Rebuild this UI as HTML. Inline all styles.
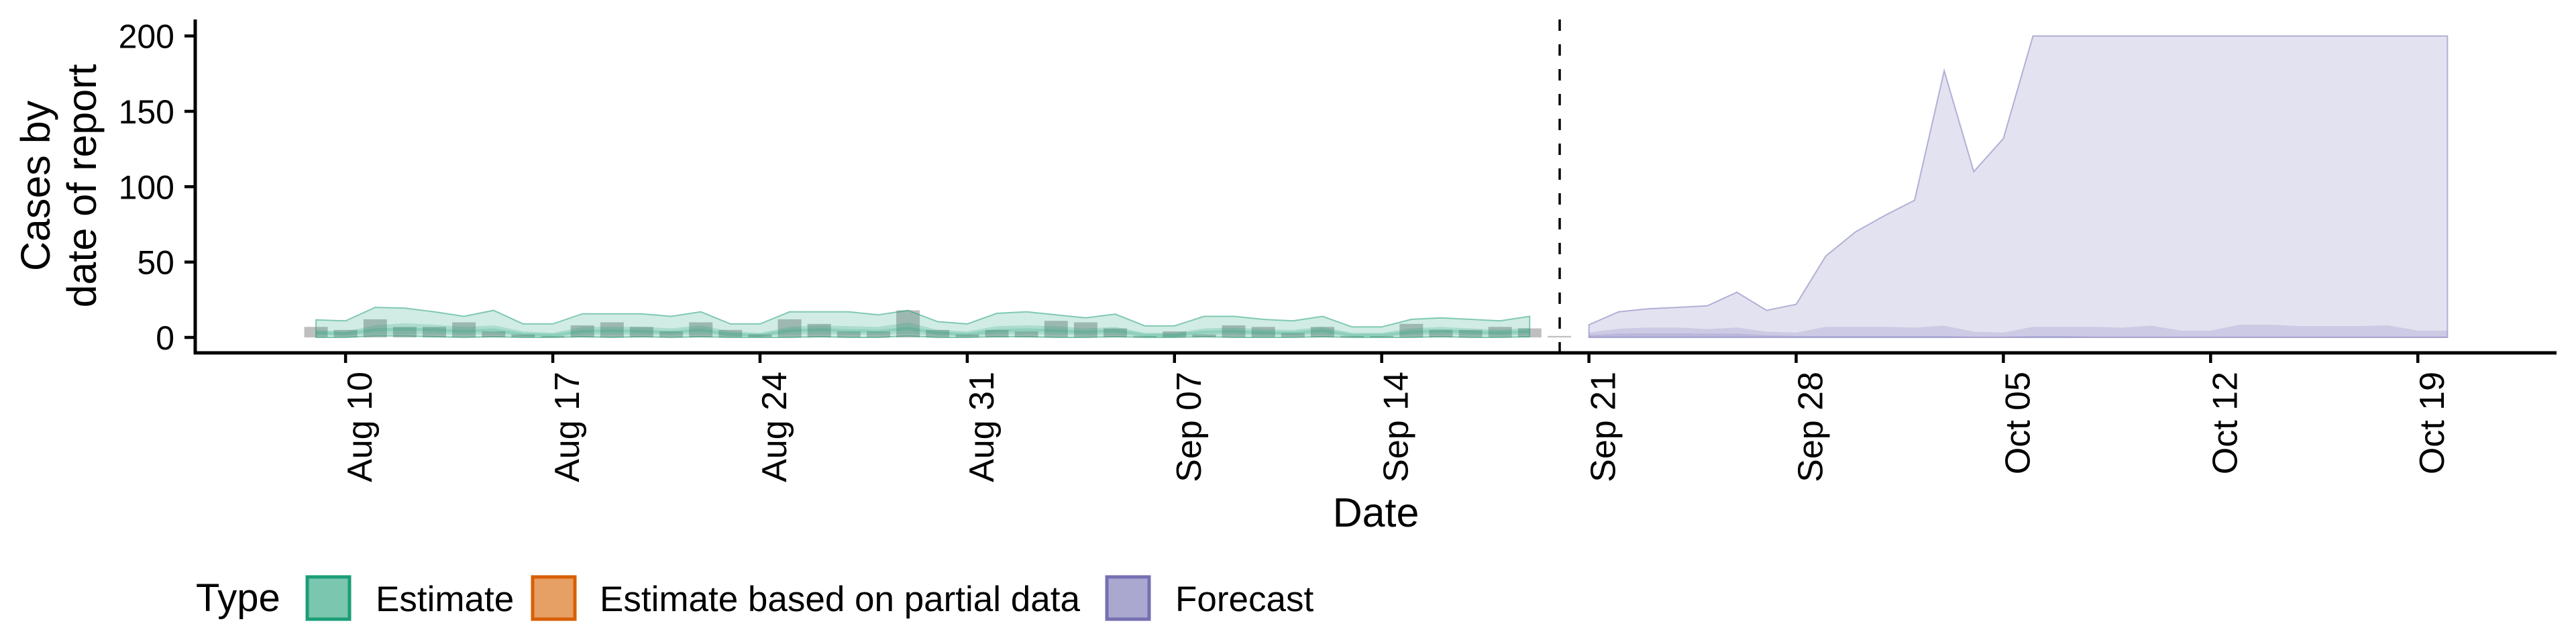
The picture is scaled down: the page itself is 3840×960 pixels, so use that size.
<!DOCTYPE html>
<html><head><meta charset="utf-8">
<style>
html,body{margin:0;padding:0;background:#fff;}
svg{display:block;font-family:"Liberation Sans",Arial,sans-serif;}
</style></head>
<body>
<svg id="chart" width="3840" height="960" viewBox="0 0 3840 960" xmlns="http://www.w3.org/2000/svg">
  <g id="bars"></g>
  <g id="ribbons"></g>
  <line x1="2325" y1="29" x2="2325" y2="526" stroke="#000" stroke-width="3.5" stroke-dasharray="17,20"/>
  <g id="axes">
    <line x1="291" y1="29" x2="291" y2="528" stroke="#000" stroke-width="5"/>
    <line x1="289" y1="526" x2="3811" y2="526" stroke="#000" stroke-width="5"/>
  </g>
  <g id="yticks"></g>
  <g id="xticks"></g>
  <text transform="translate(74,277) rotate(-90)" text-anchor="middle" font-size="61">Cases by</text>
  <text transform="translate(143,277) rotate(-90)" text-anchor="middle" font-size="61">date of report</text>
  <text x="2051" y="785" text-anchor="middle" font-size="61">Date</text>
  <g>
    <text x="292" y="911" font-size="58">Type</text>
    <rect x="458" y="860" width="63" height="63" fill="#7BC6AE" stroke="#1B9E77" stroke-width="5"/>
    <text x="560" y="911" font-size="53">Estimate</text>
    <rect x="794" y="860" width="63" height="63" fill="#E69F64" stroke="#D95F02" stroke-width="5"/>
    <text x="894" y="911" font-size="53">Estimate based on partial data</text>
    <rect x="1650" y="860" width="63" height="63" fill="#ABA8D0" stroke="#7570B3" stroke-width="5"/>
    <text x="1752" y="911" font-size="53">Forecast</text>
  </g>
</svg>
<script>
// day index 0 = Aug 9
const barValues = [7,5,12,7,7,10,4,2,1,8,10,7,4,10,5,2,12,9,4,4,18,5,2,5,4,11,10,6,1,4,2,8,7,3,7,1,1,9,5,5,7,6,1];
const estUpper90 = [11.7,11,20,19.5,17,14,18,9,9,15.7,15.7,15.7,14,17,9,9,17,17,17,15,18,10.5,9,16,17,15,13,15.5,7.7,7.7,14,14,12,11,14,7,7,12,13,12,11,14];
const estUpper50 = [5,4,8,9.5,8.5,7,8,4,3,7,7,7,6,8,4,3,7,8,7.5,7,10,5,4,7.5,8,7.5,6,7,3,3,6,6.5,5.5,5,7,3,3,6,7,6,5,6.5];
const estMedian = [3,2.5,5,5.5,5,4,5,2,1.5,4,4.5,4,3.5,5,2,1.5,4.5,5,4.5,4,6,3,2,4.5,5,4.5,3.5,4.5,1.5,1.5,3.5,4,3,3,4.5,1.5,1.5,3.5,4.5,3.5,3,4];
const estLower90 = [0,0,1,1,0.5,0,0.5,0,0,0.5,0,0.5,0,0.5,0,0,0,0.5,0,0,1,0,0,0.5,0.5,0,0,0.5,0,0,0.5,0,0,0,0.5,0,0,0,0.5,0,0,0.5];
// forecast: day index 43 = Sep 21 .. 72 = Oct 20
const fcUpper90 = [8.4,17,19,20,21,30,18,22,54,70,81,91,177,110,132,200,200,200,200,200,200,200,200,200,200,200,200,200,200,200];
const fcUpper50 = [3.3,5.8,6.6,6.6,5.5,6.6,3.8,3.2,7,7,7,6.5,7.8,3.8,3.2,7,7,7,6.5,7.8,4.5,4.5,8.5,8.5,7.5,7.5,7.5,8,4.5,4.5];
const fcUpper20 = [1.5,2.5,2.8,2.8,2.5,2.5,1.5,1,1,1,1,1,1,0.5,0.5,1,1,0.5,0.5,0.5,0.5,0.5,0.5,0.5,0.5,0.5,0.5,0.5,0.5,0.5];
const yTicks = [0,50,100,150,200];
const xTickLabels = ["Aug 10","Aug 17","Aug 24","Aug 31","Sep 07","Sep 14","Sep 21","Sep 28","Oct 05","Oct 12","Oct 19"];

const NS = "http://www.w3.org/2000/svg";
function xScale(d){ return 471 + d*44.13; }
function yScale(v){ return 503 - v*2.247; }
function mk(tag, attrs, parent){
  const el = document.createElementNS(NS, tag);
  for (const k in attrs) el.setAttribute(k, attrs[k]);
  parent.appendChild(el);
  return el;
}
function band(upper, lower, start, fill, stroke, parent, name){
  let pts = [];
  for (let i=0;i<upper.length;i++) pts.push(xScale(start+i).toFixed(1)+","+yScale(upper[i]).toFixed(1));
  for (let i=lower.length-1;i>=0;i--) pts.push(xScale(start+i).toFixed(1)+","+yScale(lower[i]).toFixed(1));
  const p = mk("polygon", {points: pts.join(" "), fill: fill, stroke: stroke, "stroke-width": 2}, parent);
  
  
}
const bars = document.getElementById("bars");
barValues.forEach((v,i)=>{
  const x = xScale(i);
  const r = mk("rect", {x:(x-17.5).toFixed(1), y:yScale(v).toFixed(1), width:35, height:Math.max(2,(v*2.247)).toFixed(1), fill:"#7f7f7f", "fill-opacity":0.5}, bars);
  
  
});
const rib = document.getElementById("ribbons");
const estLower50 = estMedian.map(v=>v*0.4);
const estUpper20 = estMedian.map(v=>v+1);
const estLower20 = estMedian.map(v=>Math.max(0,v-1));
band(estUpper90, estLower90, 0, "rgba(27,158,119,0.2)", "rgba(27,158,119,0.5)", rib, "estimate-ribbon-90");
band(estUpper50, estLower50, 0, "rgba(27,158,119,0.2)", "none", rib, "estimate-ribbon-50");
band(estUpper20, estLower20, 0, "rgba(27,158,119,0.2)", "none", rib, "estimate-ribbon-20");
const fcZero = fcUpper90.map(()=>0);
band(fcUpper90, fcZero, 43, "rgba(117,112,179,0.2)", "rgba(117,112,179,0.5)", rib, "forecast-ribbon-90");
band(fcUpper50, fcZero, 43, "rgba(117,112,179,0.2)", "none", rib, "forecast-ribbon-50");
band(fcUpper20, fcZero, 43, "rgba(117,112,179,0.2)", "none", rib, "forecast-ribbon-20");

const yt = document.getElementById("yticks");
yTicks.forEach(v=>{
  const y = yScale(v);
  const l = mk("line", {x1:275, x2:291, y1:y, y2:y, stroke:"#000", "stroke-width":4.5}, yt);
  
  
  const t = mk("text", {x:260, y:(y+18).toFixed(1), "text-anchor":"end", "font-size":50}, yt);
  
  
  t.textContent = v;
});
const xt = document.getElementById("xticks");
xTickLabels.forEach((lab,i)=>{
  const x = xScale(1 + i*7);
  const l = mk("line", {x1:x, x2:x, y1:526, y2:541, stroke:"#000", "stroke-width":4.5}, xt);
  
  
  const t = mk("text", {transform:"translate("+(x+39).toFixed(1)+",554) rotate(-90)", "text-anchor":"end", "font-size":52}, xt);
  
  
  t.textContent = lab;
});
</script>
</body></html>
